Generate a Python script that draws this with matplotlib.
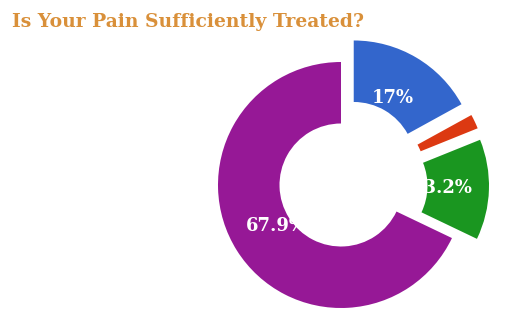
import matplotlib.pyplot as plt

# Slice data
answers = ["Yes", "Don't know", "Partly", "No"]
shares = [17.0, 1.9, 13.2, 67.9]
colors = ["#3366CC", "#DC3912", "#1A9620", "#961896"]
offsets = [25, 25, 25, 0]

W, H = 506, 324


def fmt_pct(pct):
    # small slices get no label
    if pct < 5:
        return ""
    return f"{pct:.1f}".rstrip("0").rstrip(".") + "%"


fig = plt.figure(figsize=(W / 100, H / 100), dpi=100)
ax = fig.add_axes([0, 0, 1, 1])

wedges, texts, autotexts = ax.pie(
    shares, colors=colors, explode=offsets, startangle=90, counterclock=False,
    center=(341, H - 185), radius=123, autopct=fmt_pct, pctdistance=0.62,
    wedgeprops=dict(width=61.5, linewidth=0),
    textprops=dict(color="white", fontsize=13, fontweight="bold",
                   family="DejaVu Serif"),
    frame=True,
)
ax.set_xlim(0, W)
ax.set_ylim(0, H)
ax.set_aspect("equal")
ax.axis("off")

fig.text(12 / W, 1 - 22 / H, "Is Your Pain Sufficiently Treated?",
         color="#D9903A", fontsize=13.5, fontweight="bold", family="DejaVu Serif",
         va="center", ha="left")

fig.savefig("out.png", dpi=100)
